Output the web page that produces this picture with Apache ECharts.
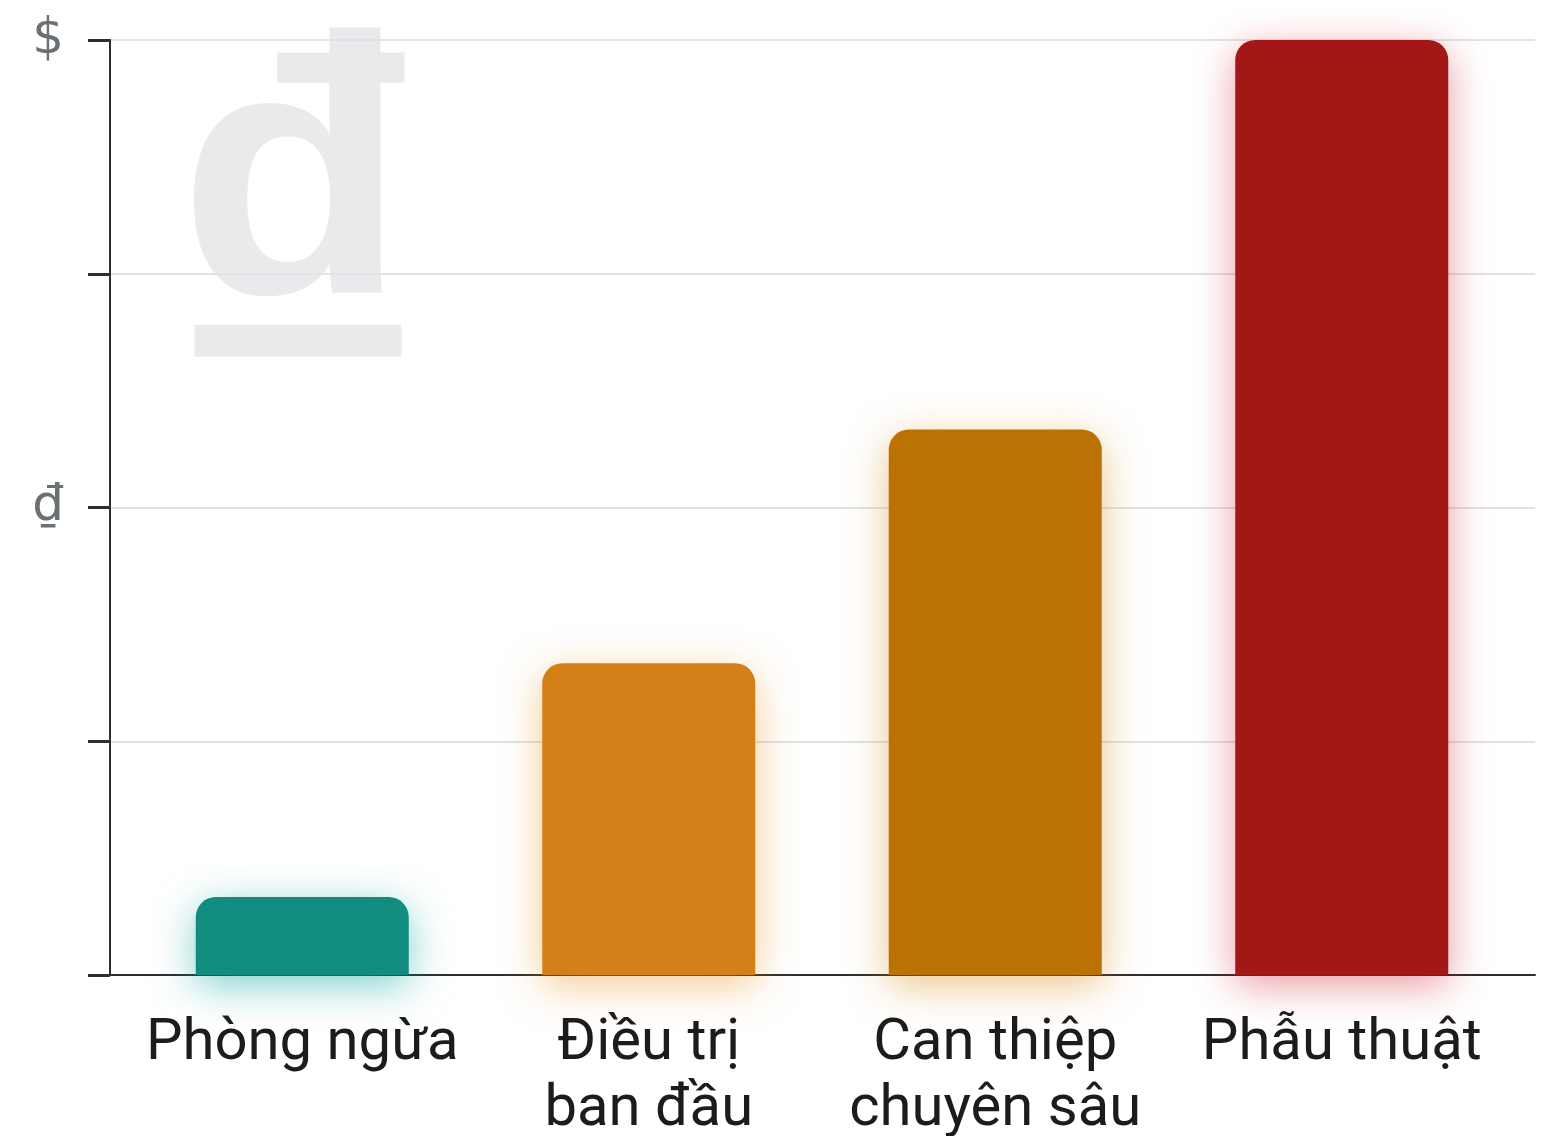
<!DOCTYPE html>
<html>
<head>
<meta charset="utf-8">
<script src="https://cdn.jsdelivr.net/npm/echarts@6/dist/echarts.min.js"></script>
<style>
html,body{margin:0;padding:0;background:#fff;}
#chart{width:1542px;height:1136px;}
</style>
</head>
<body>
<div id="chart"></div>
<script>
const categories = ['Phòng ngừa', 'Điều trị\nban đầu', 'Can thiệp\nchuyên sâu', 'Phẫu thuật'];
const values = [1, 4, 7, 12];
const barColors = ['#138c80', '#d48019', '#bc7103', '#a31717'];
const glowColors = ['rgba(19,170,160,0.55)', 'rgba(235,150,40,0.5)', 'rgba(215,140,20,0.5)', 'rgba(210,30,45,0.45)'];
const yTickValues = [0, 3, 6, 9, 12];
const yTickLabels = ['', '', '₫', '', '$'];

const chart = echarts.init(document.getElementById('chart'));
const gridTop = 40, gridBottom = 161;
chart.setOption({
  backgroundColor: '#ffffff',
  animation: false,
  graphic: [{
    type: 'text',
    left: 162,
    top: 1,
    z: -10,
    silent: true,
    style: {
      text: '₫',
      font: 'bold 520px "Liberation Sans", Arial, sans-serif',
      fill: '#e9eaec'
    }
  }],
  grid: [
    { left: 110, right: 7, top: gridTop, bottom: gridBottom, containLabel: false, outerBoundsMode: 'none' },
    { left: 129, right: 27, top: gridTop, bottom: gridBottom, containLabel: false, outerBoundsMode: 'none' }
  ],
  xAxis: [
    {
      type: 'category', gridIndex: 0, data: categories,
      axisLine: { show: true, lineStyle: { color: '#2b2e33', width: 2 } },
      axisTick: { show: false }, axisLabel: { show: false }, splitLine: { show: false }
    },
    {
      type: 'category', gridIndex: 1, data: categories,
      axisLine: { show: false }, axisTick: { show: false },
      axisLabel: {
        color: '#1c1c1c', fontSize: 58, fontFamily: 'Roboto, "Noto Sans", sans-serif',
        lineHeight: 66, margin: 36, interval: 0
      }
    }
  ],
  yAxis: [
    {
      type: 'value', gridIndex: 0, min: 0, max: 12, interval: 3,
      axisLine: { show: true, lineStyle: { color: '#2b2e33', width: 2 } },
      axisTick: { show: true, length: 22, lineStyle: { color: '#2b2e33', width: 3 } },
      splitLine: { show: true, lineStyle: { color: '#e1e3e6', width: 2 } },
      axisLabel: {
        margin: 46, color: '#6b7075', fontSize: 50,
        fontFamily: '"DejaVu Sans", sans-serif',
        formatter: function (v) { const i = yTickValues.indexOf(v); return i >= 0 ? yTickLabels[i] : ''; }
      }
    },
    {
      type: 'value', gridIndex: 1, min: 0, max: 12, interval: 3, show: false,
      splitLine: { show: false }
    }
  ],
  series: [{
    type: 'bar',
    xAxisIndex: 1, yAxisIndex: 1,
    barWidth: 213,
    z: 3,
    data: values.map(function (v, i) {
      return {
        value: v,
        itemStyle: {
          color: barColors[i],
          borderRadius: [20, 20, 0, 0],
          shadowBlur: 40,
          shadowOffsetY: 10,
          shadowColor: glowColors[i]
        }
      };
    })
  }]
});
</script>
</body>
</html>
